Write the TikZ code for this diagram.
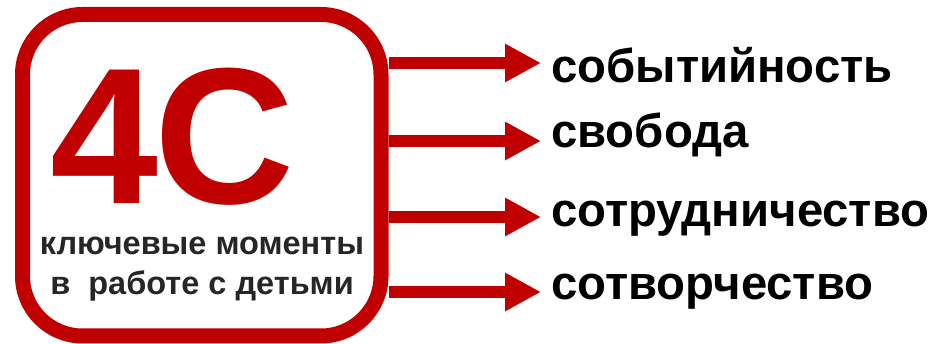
\documentclass[tikz,border=0pt]{standalone}
\usepackage{fontspec}
\setmainfont{Liberation Sans}
\usetikzlibrary{arrows.meta}
\definecolor{dred}{HTML}{C00000}
\definecolor{dgray}{HTML}{262626}
\begin{document}
\begin{tikzpicture}[x=1pt,y=1pt,
  frame/.style={draw=dred,line width=15pt,rounded corners=60pt,minimum width=358.5pt,minimum height=321.5pt,inner sep=0pt},
  arr/.style={draw=dred,line width=11.5pt,-{Triangle[length=36pt,width=36pt]}},
  item/.style={anchor=base west,inner sep=0pt,font=\fontsize{47.3}{48}\selectfont\bfseries},
  big/.style={anchor=base west,inner sep=0pt,text depth=0pt,text=dred,font=\fontsize{194}{194}\selectfont\bfseries},
  sub/.style={inner sep=0pt,text=dgray,align=center,font=\fontsize{32.5}{40}\selectfont\bfseries}]
\useasboundingbox (0,0) rectangle (933,344);
\node[frame] (box) at (201.75,168.75) {};
\node[big] (fc) at (50,140) {4\kern-4pt C};
\node[sub,anchor=base] (s1) at (202,89) {ключевые моменты};
\node[sub,anchor=base] (s2) at (202,49) {в\ \ работе с детьми};
\node[item] (t1) at (551,261) {событийность};
\node[item] (t2) at (551,196) {свобода};
\node[item] (t3) at (551,117) {сотрудничество};
\node[item] (t4) at (551,44) {сотворчество};
\coordinate (a1) at (541,281);
\coordinate (a2) at (541,203);
\coordinate (a3) at (541,127);
\coordinate (a4) at (541,52);
\foreach \i in {1,2,3,4}{
  \draw[arr] (box.east |- a\i) -- (a\i);
}
\end{tikzpicture}
\end{document}
